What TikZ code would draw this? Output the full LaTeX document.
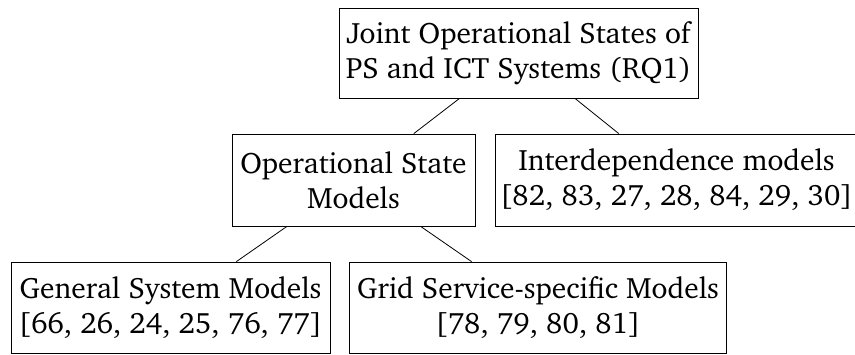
\documentclass[tikz,border=0pt]{standalone}
\usepackage[T1]{fontenc}
\usepackage{charter}
\begin{document}
\begin{tikzpicture}[x=1pt,y=-1pt,
  box/.style={draw, line width=0.8pt, align=center, inner sep=0pt,
    font=\fontsize{29.5}{35}\selectfont},
  link/.style={line width=0.8pt}]
\useasboundingbox (0,0) rectangle (855,354);
\node[box, minimum width=359, minimum height=90] (root) at (518.5,53) {Joint Operational States of\\PS and ICT Systems (RQ1)};
\node[box, minimum width=243, minimum height=92] (osm) at (353.5,180) {Operational State\\Models};
\node[box, minimum width=363, minimum height=92] (idm) at (676.5,180) {Interdependence models\\{}[82, 83, 27, 28, 84, 29, 30]};
\node[box, minimum width=319, minimum height=91] (gsm) at (170.5,307.5) {General System Models\\{}[66, 26, 24, 25, 76, 77]};
\node[box, minimum width=377, minimum height=91] (gssm) at (538,307.5) {Grid Service-specific Models\\{}[78, 79, 80, 81]};
\draw[link] (root) -- (osm);
\draw[link] (root) -- (idm);
\draw[link] (osm) -- (gsm);
\draw[link] (osm) -- (gssm);
\end{tikzpicture}
\end{document}
